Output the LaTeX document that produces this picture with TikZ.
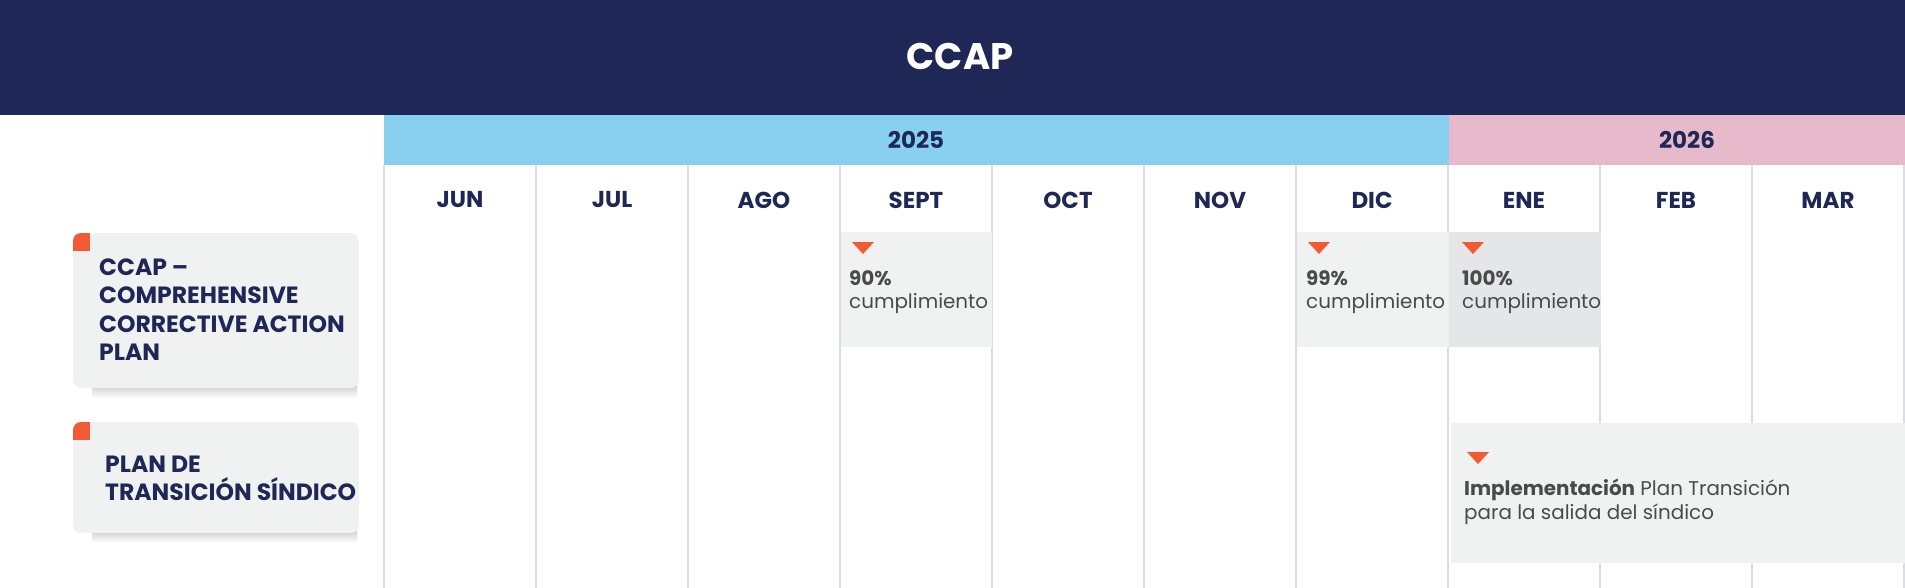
\documentclass[tikz,border=0pt]{standalone}
\usepackage{fontspec}
\setmainfont{Poppins}
\usepackage{xcolor}
\usetikzlibrary{positioning}
\definecolor{navy}{HTML}{1E2755}
\definecolor{skyblue}{HTML}{89CFF0}
\definecolor{rosepink}{HTML}{E6BACB}
\definecolor{accent}{HTML}{F15A35}
\definecolor{cardgrey}{HTML}{F0F1F1}
\definecolor{enegrey}{HTML}{E5E6E8}
\definecolor{linegrey}{HTML}{DCDDE4}
\definecolor{notegrey}{HTML}{4A4A4A}
\tikzset{title/.style={text=white, font=\bfseries\fontsize{37}{40}\selectfont},
 yearlbl/.style={text=navy, font=\bfseries\fontsize{23}{26}\selectfont},
 monthlbl/.style={text=navy, font=\bfseries\fontsize{23}{26}\selectfont},
 gridline/.style={draw=linegrey, line width=2.5pt},
 cardtxt/.style={anchor=north west, inner sep=0pt, align=left, text=navy,
  font=\bfseries\fontsize{23.5}{28.5}\selectfont},
 note/.style={anchor=north west, inner sep=0pt, align=left, text=notegrey,
  font=\fontsize{19.9}{23.5}\selectfont},
 }

\begin{document}
\begin{tikzpicture}[x=1pt, y=-1pt]
        \useasboundingbox (0,0) rectangle (1905,588);
        % header and years
        \fill [navy] (0,0) rectangle (1905,115);
        \node [title] (head) at (960,56) {CCAP};
        \fill [skyblue] (384,115) rectangle (1449,165);
        \fill [rosepink] (1449,115) rectangle (1905,165);
        \node [yearlbl] (y25) at (916,140) {2025};
        \node [yearlbl] (y26) at (1687,140) {2026};
        % months
        \foreach \i in {0,...,10}
            \draw [gridline] (384+152*\i,165) -- (384+152*\i,588);
        \foreach \m [count=\i from 0] in {JUN,JUL,AGO,SEPT,OCT,NOV,DIC,ENE,FEB,MAR}
            \node [monthlbl] (m\i) at (460+152*\i,200) {\m};
        % left cards
        \shade [top color=black!18, bottom color=white] (92,386) rectangle (357,398);
        \shade [top color=black!18, bottom color=white] (92,531) rectangle (357,543);
        \begin{scope}
            \clip [rounded corners=8] (73,233) rectangle (359,388);
            \fill [cardgrey] (73,233) rectangle (359,388);
            \fill [accent] (73,233) rectangle (90,251);
        \end{scope}
        \begin{scope}
            \clip [rounded corners=8] (73,422) rectangle (359,533);
            \fill [cardgrey] (73,422) rectangle (359,533);
            \fill [accent] (73,422) rectangle (90,440);
        \end{scope}
        \node [cardtxt] (ccap) at (99,258.5) {CCAP –\\COMPREHENSIVE\\CORRECTIVE ACTION\\PLAN};
        \node [cardtxt] (sindico) at (105,455.5) {PLAN DE\\TRANSICIÓN SÍNDICO};
        % milestones
        \fill [cardgrey] (841,232) rectangle (992,347);
        \fill [cardgrey] (1297,232) rectangle (1449,347);
        \fill [enegrey] (1449,232) rectangle (1601,347);
        \fill [cardgrey] (1451,423) rectangle (1905,563);
        \fill [accent] (852,242) -- (874,242) -- (863,254) -- cycle;
        \fill [accent] (1308,242) -- (1330,242) -- (1319,254) -- cycle;
        \fill [accent] (1462,242) -- (1484,242) -- (1473,254) -- cycle;
        \fill [accent] (1467,452) -- (1489,452) -- (1478,464) -- cycle;
        \node [note] (sept) at (849,270) {\textbf{90\%}\\cumplimiento};
        \node [note] (dic) at (1306,270) {\textbf{99\%}\\cumplimiento};
        \node [note] (ene) at (1462,270) {\textbf{100\%}\\cumplimiento};
        \node [note] (impl) at (1464,479) {\textbf{Implementación} Plan Transición\\para la salida del síndico};
    \end{tikzpicture}
\end{document}
